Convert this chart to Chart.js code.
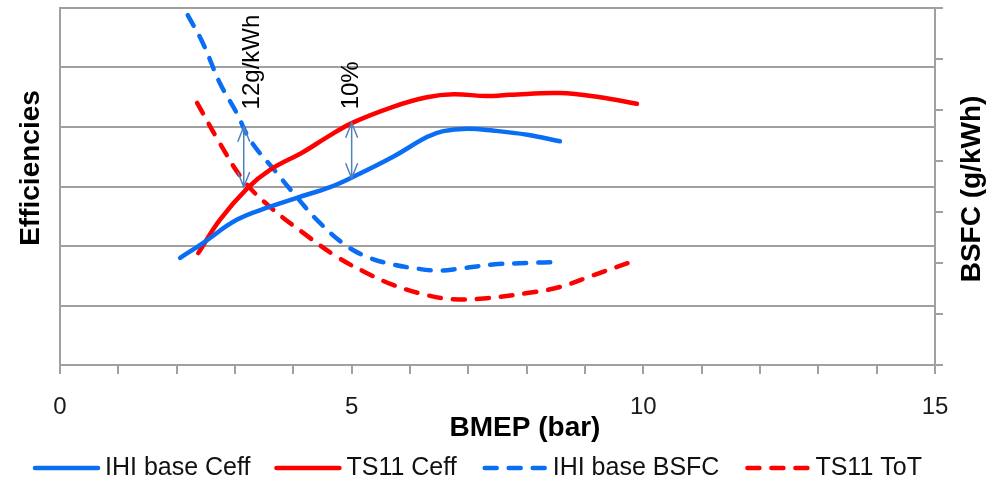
<!DOCTYPE html>
<html>
<head>
<meta charset="utf-8">
<script src="https://cdn.jsdelivr.net/npm/chart.js@4.4.1/dist/chart.umd.min.js"></script>
<style>
  html, body { margin: 0; padding: 0; background: #fff; }
  #wrap { width: 987px; height: 484px; position: relative; }
</style>
</head>
<body>
<div id="wrap"><canvas id="chart"></canvas></div>
<script>
// BMEP (bar) sample points
const ihiCeffX = [2.06, 2.45, 3.03, 3.60, 4.06, 4.63, 5.02, 5.71, 6.29, 6.57, 6.98, 7.42, 8.01, 8.57];
const ihiCeffY = [1.80, 2.05, 2.44, 2.66, 2.81, 2.99, 3.16, 3.50, 3.83, 3.93, 3.97, 3.94, 3.87, 3.76];

const ts11CeffX = [2.37, 2.74, 3.21, 3.60, 4.17, 4.58, 5.01, 5.71, 6.29, 6.74, 7.32, 7.71, 8.57, 9.26, 9.89];
const ts11CeffY = [1.88, 2.44, 2.97, 3.28, 3.58, 3.83, 4.07, 4.34, 4.50, 4.55, 4.52, 4.54, 4.57, 4.50, 4.39];

// BSFC curves on the right axis
const ihiBsfcX = [2.19, 2.45, 2.74, 3.03, 3.26, 3.72, 4.06, 4.46, 4.92, 5.31, 5.71, 6.00, 6.48, 6.86, 7.42, 8.01, 8.57];
const ihiBsfcY = [6.86, 6.31, 5.53, 4.94, 4.41, 3.76, 3.29, 2.78, 2.33, 2.10, 1.97, 1.91, 1.85, 1.89, 1.97, 2.00, 2.02];

const ts11TotX = [2.35, 2.74, 3.14, 3.60, 4.17, 4.75, 5.23, 5.71, 6.29, 6.74, 7.32, 8.01, 8.57, 9.14, 9.89];
const ts11TotY = [5.14, 4.35, 3.63, 3.10, 2.59, 2.12, 1.82, 1.57, 1.37, 1.29, 1.31, 1.41, 1.53, 1.76, 2.06];

const seriesLabels = ['IHI base Ceff', 'TS11 Ceff', 'IHI base BSFC', 'TS11 ToT'];
const xTickLabels = [0, 5, 10, 15];

// annotation arrows: [x, yFrom, yTo]
const bsfcArrow = [3.15, 4.67, 3.49];
const effArrow = [5.0, 4.07, 3.14];

const BLUE = '#0a6ef5';
const RED = '#ff0000';
const GRID = '#a0a0a0';
const FONT = "'Liberation Sans', Arial, sans-serif";

const toPoints = (xs, ys) => xs.map((v, i) => ({ x: v, y: ys[i] }));

// double headed vertical arrow
function drawArrow(ctx, px, pyTop, pyBottom) {
  const head = 15, spread = 6;
  ctx.save();
  ctx.strokeStyle = '#4f81bd';
  ctx.lineWidth = 1.5;
  ctx.beginPath();
  ctx.moveTo(px, pyTop);
  ctx.lineTo(px, pyBottom);
  ctx.moveTo(px - spread, pyTop + head);
  ctx.lineTo(px, pyTop);
  ctx.lineTo(px + spread, pyTop + head);
  ctx.moveTo(px - spread, pyBottom - head);
  ctx.lineTo(px, pyBottom);
  ctx.lineTo(px + spread, pyBottom - head);
  ctx.stroke();
  ctx.restore();
}

function drawRotated(ctx, text, cx, cy, font) {
  ctx.save();
  ctx.translate(cx, cy);
  ctx.rotate(-Math.PI / 2);
  ctx.font = font;
  ctx.fillStyle = '#000';
  ctx.textAlign = 'center';
  ctx.textBaseline = 'middle';
  ctx.fillText(text, 0, 0);
  ctx.restore();
}

const overlay = {
  id: 'overlay',
  afterDatasetsDraw(chart) {
    const { ctx, scales: { x, y, y1 } } = chart;

    // 12g/kWh between the two BSFC curves
    drawArrow(ctx, x.getPixelForValue(bsfcArrow[0]), y1.getPixelForValue(bsfcArrow[1]), y1.getPixelForValue(bsfcArrow[2]));
    // 10% between the two efficiency curves
    drawArrow(ctx, x.getPixelForValue(effArrow[0]), y.getPixelForValue(effArrow[1]), y.getPixelForValue(effArrow[2]));

    drawRotated(ctx, '12g/kWh', x.getPixelForValue(3.29), y1.getPixelForValue(5.94), '24px ' + FONT);
    drawRotated(ctx, '10%', x.getPixelForValue(5.0), y.getPixelForValue(4.7), '24px ' + FONT);
  },
  afterDraw(chart) {
    const { ctx } = chart;

    // axis titles
    drawRotated(ctx, 'Efficiencies', 31, 168, 'bold 28px ' + FONT);
    drawRotated(ctx, 'BSFC (g/kWh)', 972, 189, 'bold 28px ' + FONT);
    ctx.save();
    ctx.font = 'bold 28px ' + FONT;
    ctx.fillStyle = '#000';
    ctx.textAlign = 'center';
    ctx.textBaseline = 'middle';
    ctx.fillText('BMEP (bar)', 525, 428);
    ctx.restore();

    // legend
    ctx.save();
    ctx.font = '25px ' + FONT;
    ctx.textBaseline = 'middle';
    let lx = 35;
    const ly = 468;
    chart.data.datasets.forEach(ds => {
      ctx.strokeStyle = ds.borderColor;
      ctx.lineWidth = ds.borderWidth;
      ctx.lineCap = ds.borderCapStyle || 'butt';
      ctx.setLineDash(ds.borderDash || []);
      ctx.beginPath();
      ctx.moveTo(lx + (ds.borderDash ? 2 : 0), ly);
      ctx.lineTo(lx + 63, ly);
      ctx.stroke();
      ctx.setLineDash([]);
      ctx.fillStyle = '#111';
      ctx.fillText(ds.label, lx + 70, ly);
      lx += 70 + ctx.measureText(ds.label).width + 26;
    });
    ctx.restore();
  }
};

const solid = (label, data, color) => ({
  label, data, yAxisID: 'y',
  borderColor: color, backgroundColor: color,
  borderWidth: 4.5, borderCapStyle: 'round', borderJoinStyle: 'round',
  pointRadius: 0, tension: 0.4, fill: false
});
const dashed = (label, data, color) => ({
  label, data, yAxisID: 'y1',
  borderColor: color, backgroundColor: color,
  borderWidth: 4.5, borderDash: [12, 12], borderCapStyle: 'round',
  pointRadius: 0, tension: 0.4, fill: false
});

new Chart(document.getElementById('chart'), {
  type: 'line',
  data: {
    datasets: [
      solid(seriesLabels[0], toPoints(ihiCeffX, ihiCeffY), BLUE),
      solid(seriesLabels[1], toPoints(ts11CeffX, ts11CeffY), RED),
      dashed(seriesLabels[2], toPoints(ihiBsfcX, ihiBsfcY), BLUE),
      dashed(seriesLabels[3], toPoints(ts11TotX, ts11TotY), RED)
    ]
  },
  options: {
    responsive: true,
    maintainAspectRatio: false,
    animation: false,
    layout: { padding: { top: 8, left: 0, right: 0, bottom: 0 } },
    plugins: {
      legend: { display: false },
      tooltip: { enabled: false }
    },
    scales: {
      x: {
        type: 'linear',
        position: 'bottom',
        min: 0,
        max: 15,
        ticks: {
          stepSize: 1,
          autoSkip: false,
          maxRotation: 0,
          padding: 19,
          color: '#1a1a1a',
          font: { family: FONT, size: 24 },
          callback: v => (xTickLabels.includes(v) ? String(v) : '')
        },
        grid: { drawOnChartArea: false, drawTicks: true, tickLength: 9, color: GRID, lineWidth: 2 },
        border: { color: GRID, width: 2 },
        afterFit(scale) { scale.height = 119; }
      },
      y: {
        position: 'left',
        min: 0,
        max: 6,
        ticks: { stepSize: 1, display: false },
        grid: { color: GRID, lineWidth: 2, drawTicks: false },
        border: { color: GRID, width: 2 },
        afterFit(scale) { scale.width = 60; }
      },
      y1: {
        position: 'right',
        min: 0,
        max: 7,
        ticks: { stepSize: 1, display: false },
        grid: { drawOnChartArea: false, drawTicks: true, tickLength: 8, color: GRID, lineWidth: 2 },
        border: { color: GRID, width: 2 },
        afterFit(scale) { scale.width = 52; }
      }
    }
  },
  plugins: [overlay]
});
</script>
</body>
</html>
